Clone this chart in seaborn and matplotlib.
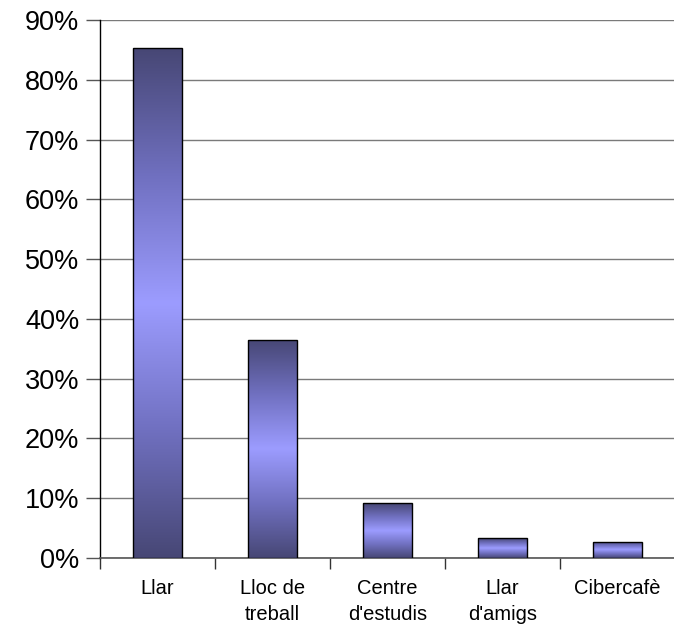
import numpy as np
import pandas as pd
import matplotlib
matplotlib.use("Agg")
import matplotlib.pyplot as plt
from matplotlib.colors import LinearSegmentedColormap
from matplotlib.ticker import FixedLocator, PercentFormatter
import seaborn as sns

# data
llocs = ["Llar", "Lloc de\ntreball", "Centre\nd'estudis", "Llar\nd'amigs", "Cibercafè"]
percent = [85.3, 36.5, 9.2, 3.3, 2.7]

sns.set_style("white")
plt.rcParams["font.family"] = ["Liberation Sans", "DejaVu Sans"]
plt.rcParams["text.color"] = "black"
plt.rcParams["xtick.color"] = "black"
plt.rcParams["ytick.color"] = "black"

df = pd.DataFrame({"lloc": llocs, "pct": percent})

fig = plt.figure(figsize=(6.74, 6.28), dpi=100)
ax = fig.add_axes([100 / 674, 1 - 558 / 628, 1 - 100 / 674, 538 / 628])

sns.barplot(data=df, x="lloc", y="pct", ax=ax, width=0.42,
            color="#8888dd", edgecolor="black", linewidth=1.0, zorder=3)

# vertical gradient: dark at ends, light in the middle
grad = LinearSegmentedColormap.from_list(
    "bar", ["#474775", "#7070c0", "#9c9cff", "#7070c0", "#474775"])
g = np.linspace(0, 1, 256).reshape(-1, 1)
for p in ax.patches:
    x0, y0 = p.get_x(), p.get_y()
    w, h = p.get_width(), p.get_height()
    im = ax.imshow(g, cmap=grad, aspect="auto", extent=[x0, x0 + w, y0, y0 + h],
                   origin="lower", zorder=3.5, interpolation="bilinear")
    im.set_clip_path(p)
    p.set_facecolor("none")
    p.set_zorder(4)

ax.set_xlim(-0.5, 4.49)
ax.set_ylim(0, 90)
ax.yaxis.set_major_locator(FixedLocator(np.arange(0, 91, 10)))
ax.yaxis.set_major_formatter(PercentFormatter(decimals=0))
ax.yaxis.grid(True, color="#7a7a7a", linewidth=1.0, zorder=0)
ax.set_axisbelow(True)

ax.set_xlabel("")
ax.set_ylabel("")
ax.xaxis.set_minor_locator(FixedLocator(np.arange(-0.5, 5, 1.0)))
ax.tick_params(axis="x", which="major", length=0, pad=15, labelsize=14.5)
ax.tick_params(axis="x", which="minor", length=8, width=1, color="#333333",
               direction="out", bottom=True)
ax.tick_params(axis="y", length=10, width=1, color="#555555", direction="out",
               left=True, labelsize=19.5, pad=5)
for t in ax.get_xticklabels():
    t.set_linespacing(1.5)

for s in ["top", "right"]:
    ax.spines[s].set_visible(False)
ax.spines["left"].set_color("black")
ax.spines["left"].set_linewidth(1.0)
ax.spines["bottom"].set_color("#555555")
ax.spines["bottom"].set_linewidth(1.2)

fig.savefig("out.png", dpi=100)
